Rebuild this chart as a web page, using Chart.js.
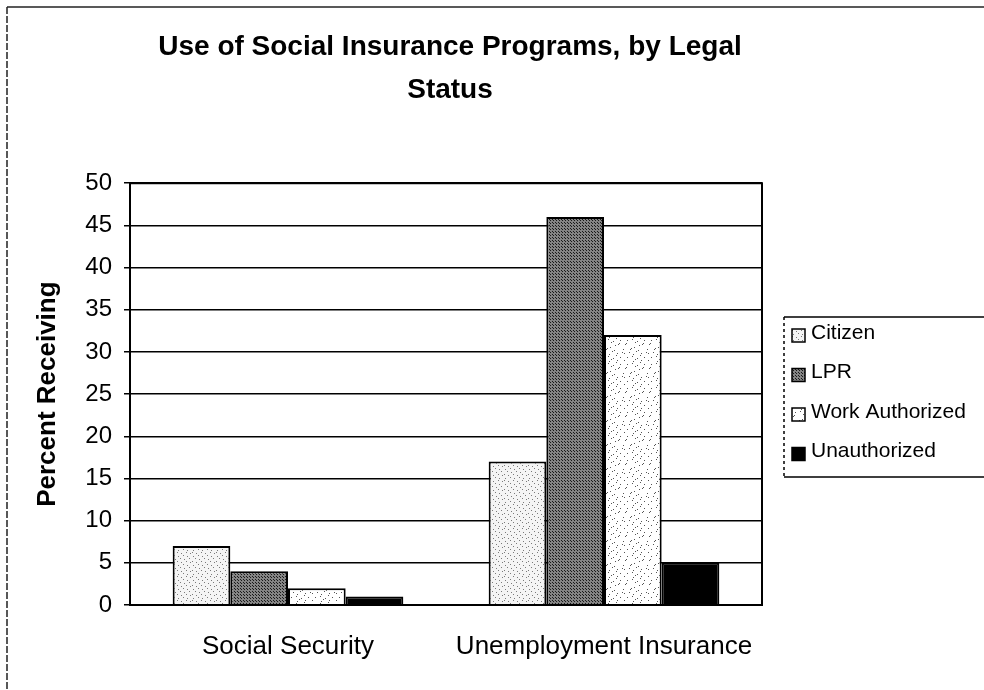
<!DOCTYPE html>
<html>
<head>
<meta charset="utf-8">
<script src="https://cdn.jsdelivr.net/npm/chart.js@4.4.1/dist/chart.umd.min.js"></script>
<style>
  html, body { margin: 0; padding: 0; background: #fff; }
  #wrap { width: 984px; height: 690px; }
</style>
</head>
<body>
<div id="wrap"><canvas id="chart" width="984" height="690"></canvas></div>
<script>
const programs = ['Social Security', 'Unemployment Insurance'];
const citizen = [7, 17];
const lpr = [4, 46];
const workAuthorized = [2, 32];
const unauthorized = [1, 5];
const yTicks = [0, 5, 10, 15, 20, 25, 30, 35, 40, 45, 50];

const FONT = "Arial, 'Liberation Sans', sans-serif";

// speckled fills like the scanned original
const makeSpeckle = (base, dot, every) => {
    const c = document.createElement('canvas');
    c.width = 24;
    c.height = 24;
    const g = c.getContext('2d');
    g.fillStyle = base;
    g.fillRect(0, 0, 24, 24);
    g.fillStyle = dot;
    for (let y = 0; y < 24; y++) {
        for (let x = 0; x < 24; x++) {
            if ((x * 7 + y * 13 + x * y) % every === 0) g.fillRect(x, y, 1, 1);
        }
    }
    return g.createPattern(c, 'repeat');
};

const fills = [
    makeSpeckle('#f4f4f4', '#7a7a7a', 9),
    makeSpeckle('#848484', '#1a1a1a', 3),
    makeSpeckle('#ffffff', '#555555', 17),
    '#000000',
];

const frame = {
    id: 'frame',
    beforeDraw(chart) {
        const { ctx } = chart;
        ctx.save();
        ctx.fillStyle = '#fff';
        ctx.fillRect(0, 0, chart.width, chart.height);
        ctx.strokeStyle = '#222';
        ctx.lineWidth = 1.5;
        ctx.beginPath();
        ctx.moveTo(7, 7);
        ctx.lineTo(984, 7);
        ctx.stroke();
        ctx.setLineDash([7, 2]);
        ctx.beginPath();
        ctx.moveTo(7, 7);
        ctx.lineTo(7, 690);
        ctx.stroke();
        ctx.restore();
    },
    afterDatasetsDraw(chart) {
        const { ctx, chartArea: a } = chart;
        ctx.save();
        ctx.strokeStyle = '#000';
        ctx.lineWidth = 2;
        ctx.strokeRect(a.left, a.top, a.right - a.left, a.bottom - a.top);
        ctx.restore();
    },
    afterDraw(chart) {
        const { ctx } = chart;
        const box = { x: 784, y: 317, w: 210, h: 160 };
        ctx.save();
        ctx.strokeStyle = '#000';
        ctx.lineWidth = 1.5;
        ctx.setLineDash([3, 3]);
        ctx.beginPath();
        ctx.moveTo(box.x, box.y);
        ctx.lineTo(box.x, box.y + box.h);
        ctx.stroke();
        ctx.setLineDash([]);
        ctx.beginPath();
        ctx.moveTo(box.x, box.y);
        ctx.lineTo(box.x + box.w, box.y);
        ctx.moveTo(box.x, box.y + box.h);
        ctx.lineTo(box.x + box.w, box.y + box.h);
        ctx.stroke();
        ctx.font = '21px ' + FONT;
        ctx.textBaseline = 'middle';
        chart.data.datasets.forEach((ds, i) => {
            const cy = 333 + i * 39.5;
            ctx.fillStyle = ds.backgroundColor;
            ctx.fillRect(792, cy - 4, 13, 13);
            ctx.lineWidth = 1.5;
            ctx.strokeStyle = '#000';
            ctx.strokeRect(792, cy - 4, 13, 13);
            ctx.fillStyle = '#000';
            ctx.fillText(ds.label, 811, cy);
        });
        ctx.restore();
    },
};

const seriesLabels = ['Citizen', 'LPR', 'Work Authorized', 'Unauthorized'];
const seriesData = [citizen, lpr, workAuthorized, unauthorized];

new Chart(document.getElementById('chart'), {
    type: 'bar',
    data: {
        labels: programs,
        datasets: seriesData.map((data, i) => ({
            label: seriesLabels[i],
            data,
            backgroundColor: fills[i],
            borderColor: '#000',
            borderWidth: 2,
            borderSkipped: 'bottom',
            categoryPercentage: 0.73,
            barPercentage: 1.0,
        })),
    },
    options: {
        responsive: false,
        animation: false,
        layout: {
            padding: { left: 10, right: 94, top: 0, bottom: 0 },
        },
        plugins: {
            legend: { display: false },
            tooltip: { enabled: false },
            title: {
                display: true,
                text: ['Use of Social Insurance Programs, by Legal', 'Status'],
                color: '#000',
                font: { family: FONT, size: 28, weight: 'bold', lineHeight: 1.54 },
                padding: { top: 26, bottom: 71 },
            },
        },
        scales: {
            x: {
                grid: { display: false },
                border: { display: true, color: '#000', width: 2 },
                ticks: {
                    color: '#000',
                    font: { family: FONT, size: 26 },
                    padding: 18,
                },
                afterFit(scale) {
                    scale.height = 85;
                },
            },
            y: {
                min: 0,
                max: 50,
                afterBuildTicks(scale) {
                    scale.ticks = yTicks.map((v) => ({ value: v }));
                },
                grid: {
                    color: '#000',
                    lineWidth: 1.5,
                    tickLength: 6,
                },
                border: { display: true, color: '#000', width: 2 },
                ticks: {
                    color: '#000',
                    font: { family: FONT, size: 24 },
                    padding: 12,
                },
                title: {
                    display: true,
                    text: 'Percent Receiving',
                    color: '#000',
                    font: { family: FONT, size: 26, weight: 'bold' },
                    padding: { top: 22, bottom: 0 },
                },
                afterFit(scale) {
                    scale.width = 120;
                },
            },
            // empty strip on the right, keeps room for the legend
            spacer: {
                type: 'linear',
                position: 'right',
                display: true,
                grid: { display: false },
                border: { display: false },
                ticks: { display: false },
                afterFit(scale) {
                    scale.width = 128;
                },
            },
        },
    },
    plugins: [frame],
});
</script>
</body>
</html>
